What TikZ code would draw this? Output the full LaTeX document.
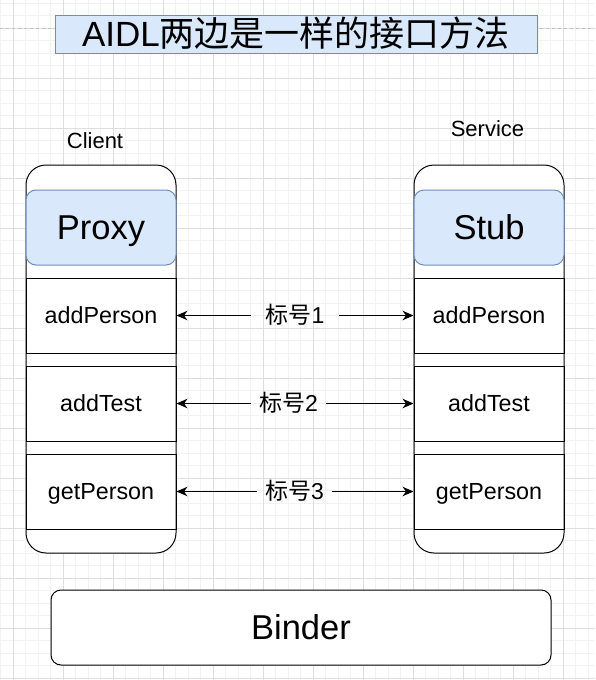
\documentclass[tikz,border=0pt]{standalone}
\usepackage{fontspec}
\setmainfont{Liberation Sans}
\newfontfamily\cjk{Noto Sans CJK SC}
\usetikzlibrary{arrows.meta}
\definecolor{bluefill}{HTML}{DAE8FC}
\definecolor{bluedraw}{HTML}{6C8EBF}
\definecolor{minorc}{HTML}{F2F2F2}
\definecolor{majorc}{HTML}{DEDEDE}
\definecolor{dashc}{HTML}{C0C0C0}
\begin{document}
\begin{tikzpicture}[x=1pt,y=-1pt,
  minorgrid/.style={draw=minorc, line width=0.8pt},
  majorgrid/.style={draw=majorc, line width=0.8pt},
  container/.style={draw=black, fill=white, line width=1pt, rounded corners=20pt, minimum width=150pt, minimum height=388pt, inner sep=0pt},
  rowbox/.style={draw=black, line width=1pt, minimum width=150pt, minimum height=75pt, inner sep=0pt, text height=16.5pt, text depth=0pt, font=\fontsize{23.3}{27}\selectfont},
  headbox/.style={draw=bluedraw, fill=bluefill, line width=1pt, rounded corners=10pt, minimum width=150pt, minimum height=75pt, inner sep=0pt, text height=24.7pt, text depth=0pt, font=\fontsize{34.5}{40}\selectfont},
  titlebox/.style={draw=bluedraw, fill=bluefill, line width=1pt, minimum width=482pt, minimum height=38pt, inner sep=0pt, text height=24.7pt, text depth=0pt, font=\fontsize{35}{40}\selectfont},
  binderbox/.style={draw=black, fill=white, line width=1pt, rounded corners=10pt, minimum width=500pt, minimum height=75pt, inner sep=0pt, text height=24.7pt, text depth=0pt, font=\fontsize{34.5}{40}\selectfont},
  sidelabel/.style={anchor=base, inner sep=0pt, font=\fontsize{22}{26}\selectfont},
  lbl/.style={inner ysep=0pt, text height=16.5pt, text depth=0pt, font=\fontsize{23}{27}\selectfont},
  arr/.style={draw=black, line width=1pt, -{Stealth[length=11pt,width=9.5pt,inset=3.5pt]}},
  dashline/.style={draw=dashc, line width=1pt, dash pattern=on 3pt off 3pt}
]
\useasboundingbox (0,0) rectangle (595,680);
\fill[white] (0,0) rectangle (595,680);
% grid
\foreach \i in {0,...,47} { \draw[minorgrid] ({0.5+12.5*\i},0) -- ({0.5+12.5*\i},680); }
\foreach \j in {0,...,54} { \draw[minorgrid] (0,{3+12.5*\j}) -- (595,{3+12.5*\j}); }
\foreach \i in {0,...,11} { \draw[majorgrid] ({13+50*\i},0) -- ({13+50*\i},680); }
\foreach \j in {0,...,13} { \draw[majorgrid] (0,{28+50*\j}) -- (595,{28+50*\j}); }

% title with dashed line
\coordinate (dl) at (0,28);
\coordinate (dr) at (595,28);
\draw[dashline] (dl) -- (dr);
\node[titlebox] (title) at (296,34) {AIDL{\cjk 两边是一样的接口方法}};

% side labels
\node[sidelabel] (client) at (95,148) {Client};
\node[sidelabel] (service) at (487.5,136) {Service};

% containers
\node[container] (cl) at (101,359) {};
\node[container] (cr) at (489,359) {};

\node[headbox] (proxy) at (101,227.5) {Proxy};
\node[headbox] (stub) at (489,227.5) {Stub};

\node[rowbox] (la) at (101,315.5) {addPerson};
\node[rowbox] (lb) at (101,403.5) {addTest};
\node[rowbox] (lc) at (101,491.5) {getPerson};
\node[rowbox] (ra) at (489,315.5) {addPerson};
\node[rowbox] (rb) at (489,403.5) {addTest};
\node[rowbox] (rc) at (489,491.5) {getPerson};

% labels and arrows
\node[lbl, inner xsep=14.5pt] (m1) at (295,315.5) {{\cjk 标号}1};
\node[lbl, inner xsep=8pt] (m2) at (288.5,403.5) {{\cjk 标号}2};
\node[lbl, inner xsep=8pt] (m3) at (294.5,491.5) {{\cjk 标号}3};

\draw[arr] (m1.west) -- (la.east);
\draw[arr] (m1.east) -- (ra.west);
\draw[arr] (m2.west) -- (lb.east);
\draw[arr] (m2.east) -- (rb.west);
\draw[arr] (m3.west) -- (lc.east);
\draw[arr] (m3.east) -- (rc.west);

% binder
\node[binderbox] (binder) at (301,627.5) {Binder};
\end{tikzpicture}
\end{document}
